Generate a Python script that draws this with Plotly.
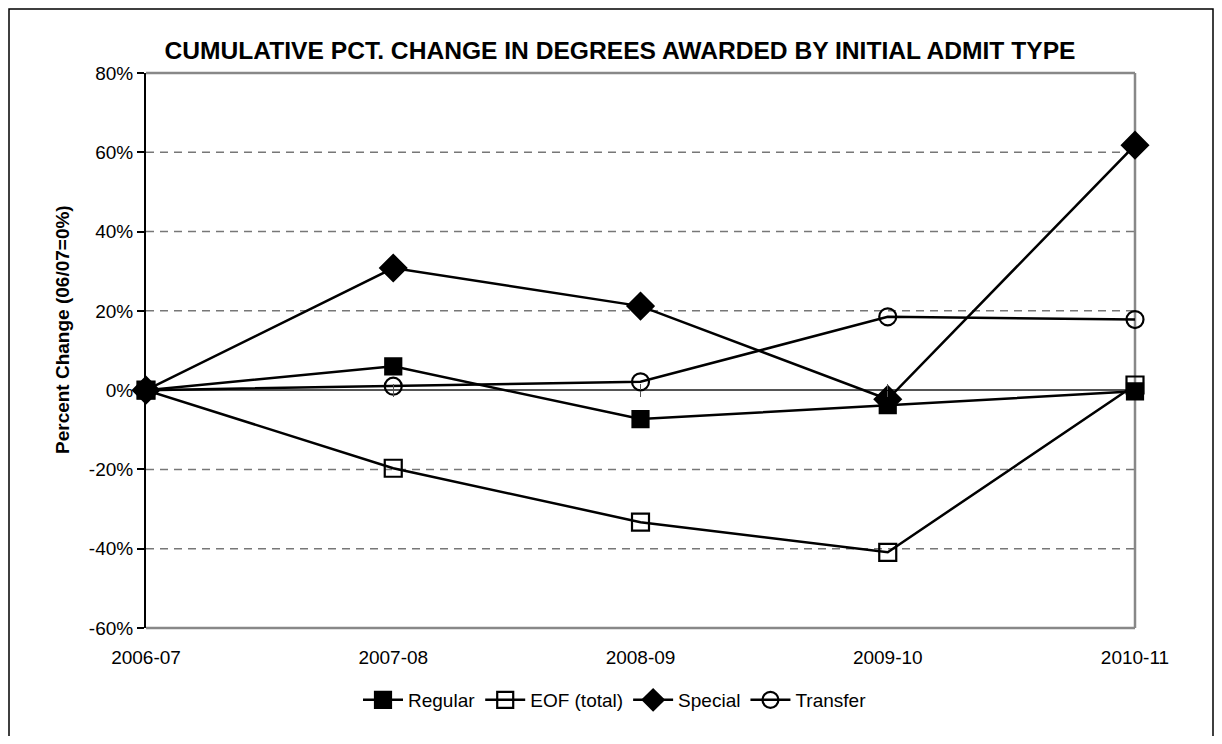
import plotly.graph_objects as go

categories = ["2006-07", "2007-08", "2008-09", "2009-10", "2010-11"]
regular = [0.0, 6.0, -7.3, -3.8, -0.3]
eof_total = [0.0, -19.7, -33.3, -40.9, 1.3]
special = [0.0, 30.8, 21.2, -2.3, 61.8]
transfer = [0.0, 1.0, 2.1, 18.5, 17.8]
y_ticks = [-60, -40, -20, 0, 20, 40, 60, 80]
y_tick_text = [f"{v}%" for v in y_ticks]

FONT = "Liberation Sans, Arial, sans-serif"
# page body has an 8px margin; figure placed at (8, 8)
W, H = 1206, 728
L, R, T, B = 138, 79, 65, 108
PW, PH = W - L - R, H - T - B

series = [
    ("Regular", regular, "square", 16),
    ("EOF (total)", eof_total, "square-open", 17),
    ("Special", special, "diamond", 20),
    ("Transfer", transfer, "circle-open", 17),
]

fig = go.Figure()
x_idx = list(range(len(categories)))
for name, vals, sym, sz in series:
    fig.add_trace(go.Scatter(
        x=x_idx, y=vals, name=name, mode="lines+markers",
        line=dict(color="black", width=2.5),
        marker=dict(symbol=sym, size=sz, color="black",
                    line=dict(color="black", width=2.2)),
        cliponaxis=False,
    ))

# dummy traces for crossing ticks on zero line
for ax in ["x2", "x3"]:
    fig.add_trace(go.Scatter(x=[0], y=[0], xaxis=ax, yaxis="y", showlegend=False,
                             mode="markers", marker=dict(opacity=0), hoverinfo="skip"))

zero_pos = (0 - (-60)) / 140.0

fig.update_layout(
    width=W, height=H,
    margin=dict(l=L, r=R, t=T, b=B, autoexpand=False),
    paper_bgcolor="white", plot_bgcolor="white",
    font=dict(family=FONT, size=19, color="black"),
    title=dict(text="<b>CUMULATIVE PCT. CHANGE IN DEGREES AWARDED BY INITIAL ADMIT TYPE</b>",
               x=612 / W, xanchor="center", xref="container", y=1 - 42 / H, yanchor="middle",
               yref="container", font=dict(size=24.6, family=FONT, color="black")),
    xaxis=dict(
        range=[0, 4], tickvals=x_idx, ticktext=categories, automargin=False,
        showgrid=False, zeroline=False, showline=False, ticks="",
        ticklabelstandoff=16, tickfont=dict(size=19),
    ),
    xaxis2=dict(
        overlaying="x", anchor="free", position=zero_pos, range=[0, 4],
        tickvals=x_idx[1:-1], showticklabels=False, ticks="outside", ticklen=6,
        tickcolor="#555555", tickwidth=1, showline=False, showgrid=False, zeroline=False,
    ),
    xaxis3=dict(
        overlaying="x", anchor="free", position=zero_pos, range=[0, 4],
        tickvals=x_idx[1:-1], showticklabels=False, ticks="inside", ticklen=6,
        tickcolor="#555555", tickwidth=1, showline=False, showgrid=False, zeroline=False,
    ),
    yaxis=dict(
        range=[-60, 80], tickvals=y_ticks, ticktext=y_tick_text, automargin=False,
        showgrid=False, zeroline=True, zerolinecolor="#555555", zerolinewidth=1.5,
        showline=True, linecolor="black", linewidth=2,
        ticks="outside", ticklen=7, tickcolor="black", tickwidth=1.5,
        tickfont=dict(size=19),
    ),
    legend=dict(orientation="h", x=607 / W, xanchor="center", xref="container",
                y=1 - 692 / H, yref="container", yanchor="middle",
                font=dict(size=19), itemwidth=40, bgcolor="rgba(0,0,0,0)"),
    showlegend=True,
)

# y-axis title as annotation
fig.add_annotation(text="<b>Percent Change (06/07=0%)</b>", textangle=-90,
                   xref="paper", yref="paper",
                   x=(55 - L) / PW, y=1 - (322 - T) / PH,
                   xanchor="center", yanchor="middle", showarrow=False,
                   font=dict(size=19, family=FONT, color="black"))

# dashed gridlines
for v in [60, 40, 20, -20, -40]:
    fig.add_shape(type="line", xref="x domain", yref="y", x0=0, x1=1, y0=v, y1=v,
                  line=dict(color="#777777", width=1.5, dash="8px,6px"), layer="below")

# gray plot border (top, right, bottom)
for (x0, x1, y0, y1) in [(0, 1, 1, 1), (1, 1, 0, 1), (0, 1, 0, 0)]:
    fig.add_shape(type="line", xref="x domain", yref="y domain", x0=x0, x1=x1, y0=y0, y1=y1,
                  line=dict(color="#888888", width=2.5), layer="below")

# outer chart border (bottom edge falls outside the visible page)
fig.add_shape(type="rect", xref="paper", yref="paper",
              x0=(1 - L) / PW, x1=(W - 1 - L) / PW,
              y0=-(B + 20) / PH, y1=1 + (T - 1) / PH,
              line=dict(color="black", width=1.5), fillcolor="rgba(0,0,0,0)")

fig.write_html("out.html")
